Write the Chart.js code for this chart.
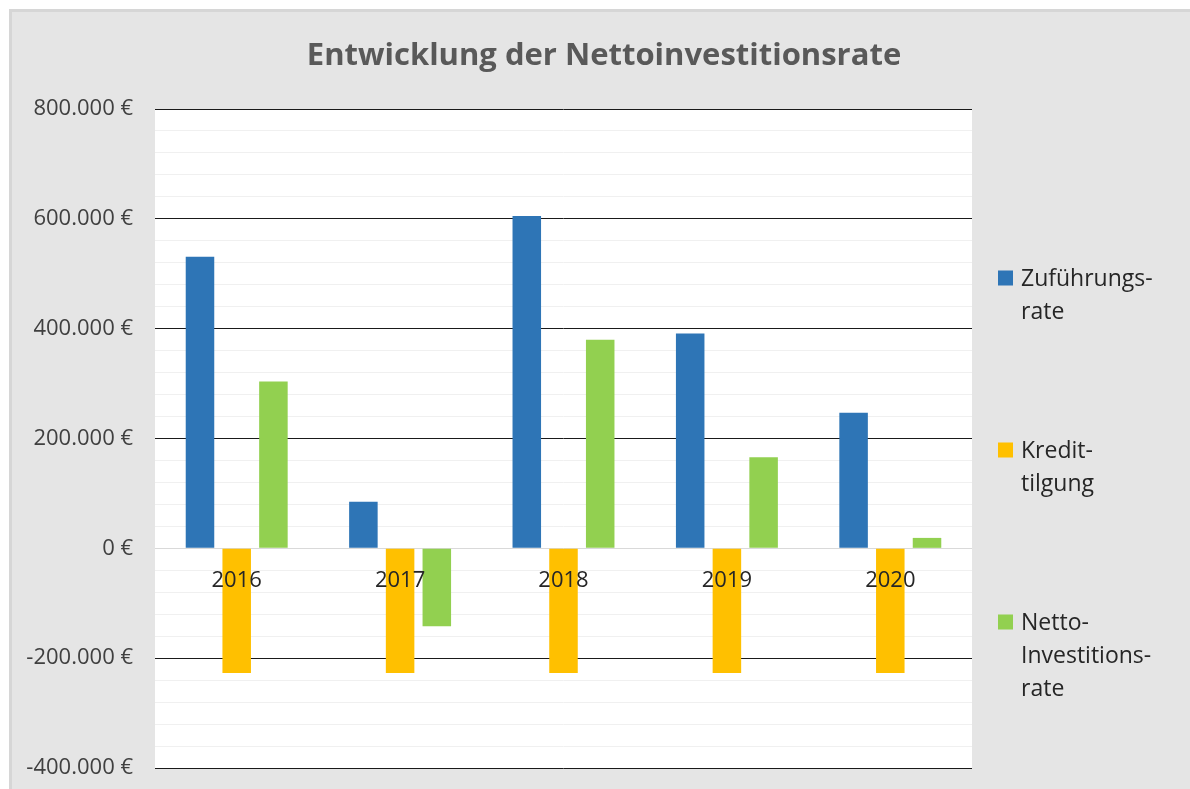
<!DOCTYPE html>
<html>
<head>
<meta charset="utf-8">
<script src="https://cdn.jsdelivr.net/npm/chart.js@4"></script>
<style>
  html, body { margin: 0; padding: 0; background: #ffffff; overflow: hidden; }
  #frame {
    position: absolute; left: 9px; top: 9px; width: 1181px; height: 780px;
    box-sizing: border-box; background: #e5e5e5;
    border-left: 3px solid #d6d6d6; border-top: 3px solid #d6d6d6;
  }
  #chart { display: block; }
</style>
</head>
<body>
<div id="frame"><canvas id="chart" width="1178" height="777"></canvas></div>
<script>
const years = ["2016", "2017", "2018", "2019", "2020"];
const zufuehrungsrate = [531000, 85000, 605000, 391000, 247000];
const kredittilgung = [-227000, -227000, -227000, -227000, -227000];
const nettoInvestitionsrate = [304000, -142000, 380000, 166000, 19000];
const seriesLabels = ["Zuführungs-\nrate", "Kredit-\ntilgung", "Netto-\nInvestitions-\nrate"];
const seriesColors = ["#2e75b6", "#ffc000", "#92d050"];
const yTicks = [-400000, -200000, 0, 200000, 400000, 600000, 800000];
const chartTitle = "Entwicklung der Nettoinvestitionsrate";

const FONT = "'Open Sans', Lato, sans-serif";
const TEXT_COLOR = "#404040";

function formatEuro(v) {
  if (v === 0) return "0 €";
  let s = Math.abs(v).toString().replace(/\B(?=(\d{3})+(?!\d))/g, ".");
  return (v < 0 ? "-" : "") + s + " €";
}

// title centred over the whole canvas (legend space included)
const titlePlugin = {
  id: "titlePlugin",
  afterDraw(chart) {
    const ctx = chart.ctx;
    ctx.save();
    ctx.font = "bold 31px " + FONT;
    ctx.fillStyle = "#595959";
    ctx.textAlign = "center";
    ctx.textBaseline = "middle";
    ctx.fillText(chartTitle, chart.width / 2 + 3, 44);
    ctx.restore();
  },
};

// year labels sit just under the zero line, like in Excel
const yearLabels = {
  id: "yearLabels",
  afterDatasetsDraw(chart) {
    const ctx = chart.ctx;
    const x = chart.scales.x;
    const y = chart.scales.y;
    const y0 = y.getPixelForValue(0);
    ctx.save();
    ctx.font = "22px " + FONT;
    ctx.fillStyle = "#262626";
    ctx.textAlign = "center";
    ctx.textBaseline = "middle";
    chart.data.labels.forEach(function (label, i) {
      ctx.fillText(label, x.getPixelForValue(i), y0 + 32);
    });
    ctx.restore();
  },
};

// legend on the right with wrapped labels
const sideLegend = {
  id: "sideLegend",
  afterDraw(chart) {
    const ctx = chart.ctx;
    const area = chart.chartArea;
    const left = area.right + 26;
    const top = area.top + 169;
    const itemGap = 172;
    const lineHeight = 33;
    ctx.save();
    ctx.font = "23px " + FONT;
    ctx.textBaseline = "middle";
    ctx.textAlign = "left";
    chart.data.datasets.forEach(function (ds, i) {
      const yy = top + i * itemGap;
      ctx.fillStyle = ds.backgroundColor;
      ctx.fillRect(left, yy - 7.5, 15, 15);
      ctx.fillStyle = "#262626";
      ds.label.split("\n").forEach(function (line, j) {
        ctx.fillText(line, left + 23, yy + 1 + j * lineHeight);
      });
    });
    ctx.restore();
  },
};

function makeDataset(idx, values) {
  return {
    label: seriesLabels[idx],
    data: values,
    backgroundColor: seriesColors[idx],
    borderWidth: 0,
    categoryPercentage: 0.674,
    barPercentage: 0.777,
  };
}

const chart = new Chart(document.getElementById("chart"), {
  type: "bar",
  data: {
    labels: years,
    datasets: [
      makeDataset(0, zufuehrungsrate),
      makeDataset(1, kredittilgung),
      makeDataset(2, nettoInvestitionsrate),
    ],
  },
  options: {
    responsive: false,
    animation: false,
    layout: { padding: { left: 0, right: 218, top: 97, bottom: 21 } },
    plugins: {
      legend: { display: false },
      tooltip: { enabled: false },
      title: { display: false },
    },
    scales: {
      x: { display: false },
      y: {
        min: yTicks[0],
        max: yTicks[yTicks.length - 1],
        border: { display: false },
        afterFit(scale) { scale.width = 143; },
        ticks: {
          stepSize: 40000,
          autoSkip: false,
          padding: 0,
          color: TEXT_COLOR,
          font: { family: FONT, size: 22 },
          callback: function (v) { return yTicks.includes(v) ? formatEuro(v) : ""; },
        },
        grid: {
          drawTicks: true,
          tickLength: 22,
          tickColor: "rgba(0,0,0,0)",
          lineWidth: 1,
          color: function (c) {
            const v = c.tick.value;
            if (v === 0) return "#d9d9d9";
            if (yTicks.includes(v)) return "#1a1a1a";
            return "#f0f0f0";
          },
        },
      },
    },
  },
  plugins: [
    {
      id: "plotBg",
      beforeDraw(chart) {
        const a = chart.chartArea;
        chart.ctx.save();
        chart.ctx.fillStyle = "#ffffff";
        chart.ctx.fillRect(a.left, a.top, a.right - a.left, a.bottom - a.top);
        chart.ctx.restore();
      },
    },
    yearLabels,
    sideLegend,
    titlePlugin,
  ],
});
</script>
</body>
</html>
